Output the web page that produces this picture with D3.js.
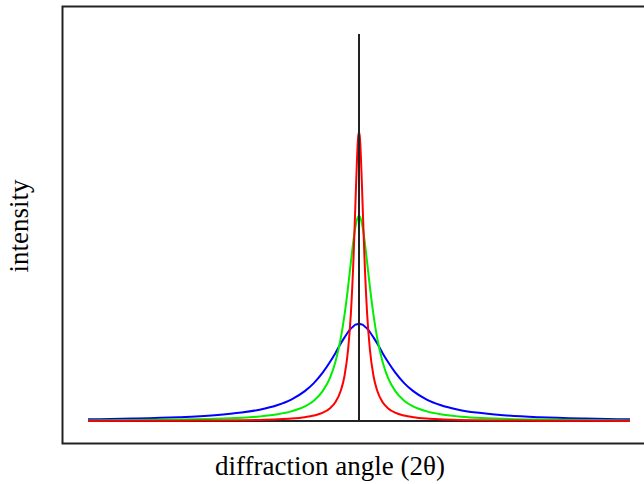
<html>
<head>
<script src="https://d3js.org/d3.v7.min.js"></script>
<style>
  body { margin: 0; background: #fff; }
  text { font-family: "Liberation Serif", "Times New Roman", serif; }
</style>
</head>
<body>
<script>
    var width = 644
    var height = 484

    // offset from peak position (deg) and intensity (% of stick height)
    var angles = [-30, -25, -20, -16, -13, -11, -9, -7.5, -6, -5, -4, -3.2, -2.6, -2, -1.6, -1.2, -0.9, -0.6, -0.4, -0.2, -0.1,
                  0, 0.1, 0.2, 0.4, 0.6, 0.9, 1.2, 1.6, 2, 2.6, 3.2, 4, 5, 6, 7.5, 9, 11, 13, 16, 20, 25, 30]
    var blueHalf  = [0.44, 0.63, 0.97, 1.48, 2.17, 2.93, 4.14, 5.55, 7.72, 9.80, 12.55, 15.3, 17.6, 20.1, 21.6, 23.0, 23.9, 24.5, 24.9, 25.0, 25.1]
    var greenHalf = [0.16, 0.23, 0.36, 0.56, 0.85, 1.18, 1.74, 2.48, 3.77, 5.26, 7.78, 11.2, 15.4, 21.6, 27.5, 34.8, 41.0, 46.9, 50.1, 52.2, 52.8]
    var redHalf   = [0.04, 0.06, 0.09, 0.14, 0.21, 0.29, 0.44, 0.63, 0.98, 1.40, 2.16, 3.32, 4.91, 7.95, 11.7, 18.6, 27.7, 42.5, 55.9, 68.9, 73.2]
    var peaks = {blue: 25.1, green: 53.0, red: 74.7}
    var stick = 100

    function mirror(half, top) { return half.concat([top], half.slice().reverse()) }
    var series = [
        {color: '#0000ff', values: mirror(blueHalf, peaks.blue)},
        {color: '#00ee00', values: mirror(greenHalf, peaks.green)},
        {color: '#ff0000', values: mirror(redHalf, peaks.red)}
    ]

    var x = d3.scaleLinear().domain([-30, 30]).range([88, 630])
    var y = d3.scaleLinear().domain([0, 100]).range([421, 34])

    var svg = d3.select('body').append('svg').attr('width', width).attr('height', height)

    // frame (right side runs off the picture)
    svg.append('path')
        .attr('d', 'M 660 6.5 H 62.5 V 443.5 H 660')
        .attr('fill', 'none').attr('stroke', '#222').attr('stroke-width', 2)

    // baseline
    svg.append('line')
        .attr('x1', x(-30)).attr('x2', x(30)).attr('y1', y(0)).attr('y2', y(0))
        .attr('stroke', '#222').attr('stroke-width', 2)

    var line = d3.line()
        .x(function(d, i) { return x(angles[i]) })
        .y(function(d) { return y(d) })
        .curve(d3.curveMonotoneX)

    svg.selectAll('path.peak').data(series).enter().append('path')
        .attr('class', 'peak')
        .attr('d', function(d) { return line(d.values) })
        .attr('fill', 'none')
        .attr('stroke', function(d) { return d.color })
        .attr('stroke-width', 2)

    // ideal stick
    svg.append('line')
        .attr('x1', x(0)).attr('x2', x(0)).attr('y1', y(0)).attr('y2', y(stick))
        .attr('stroke', '#222').attr('stroke-width', 2)

    svg.append('text')
        .attr('x', 330).attr('y', 475)
        .attr('text-anchor', 'middle').attr('font-size', 27)
        .text('diffraction angle (2\u03b8)')

    svg.append('text')
        .attr('transform', 'translate(28, 226) rotate(-90)')
        .attr('text-anchor', 'middle').attr('font-size', 27)
        .text('intensity')
</script>
</body>
</html>
